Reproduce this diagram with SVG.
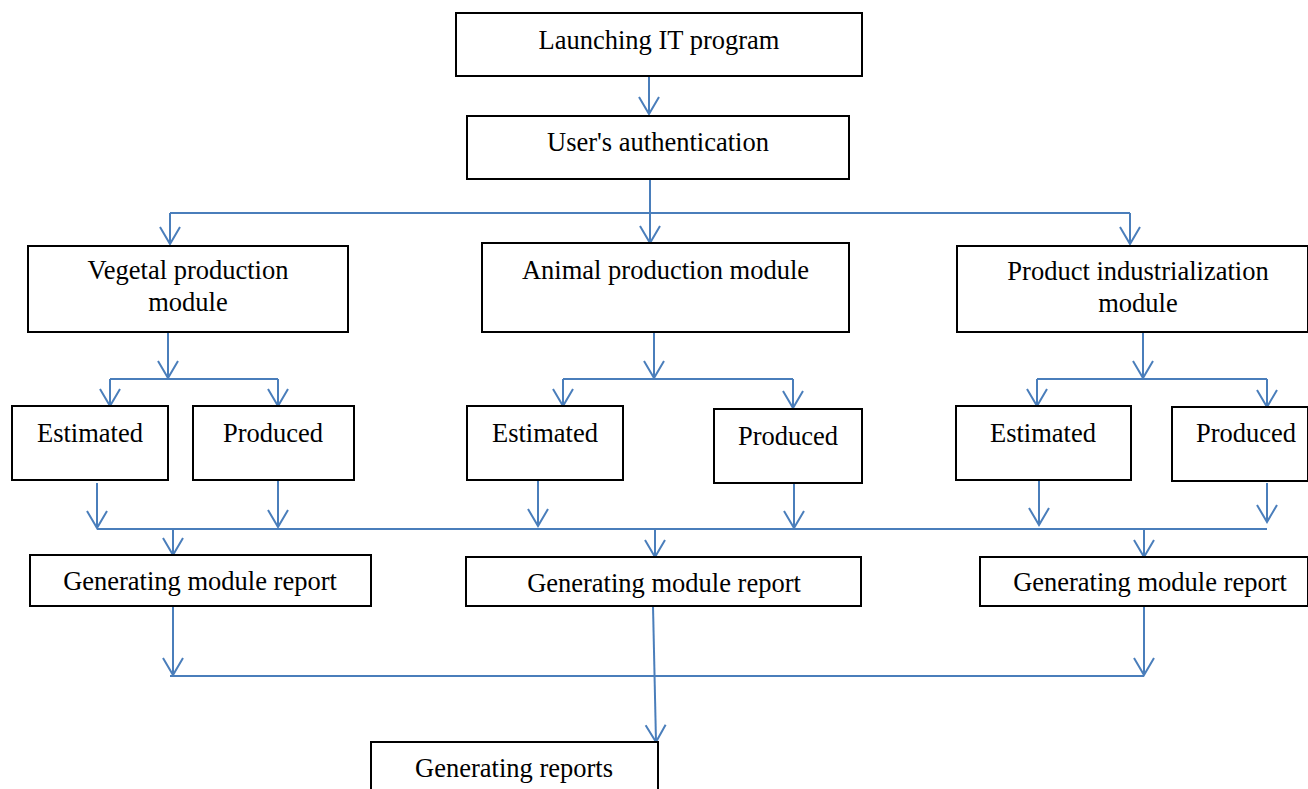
<svg xmlns="http://www.w3.org/2000/svg" width="1308" height="789" viewBox="0 0 1308 789">
<style>
.box{fill:#fff;stroke:#000;stroke-width:2}
.t{font-family:"Liberation Serif","Times New Roman",serif;font-size:26.5px;fill:#000;text-anchor:middle}
.c{fill:none;stroke:#4a7ebb;stroke-width:2}
.a{marker-end:url(#ah)}
</style>
<defs>
<marker id="ah" markerUnits="userSpaceOnUse" markerWidth="24" markerHeight="24" viewBox="-20 -12 24 24" refX="0" refY="0" orient="auto">
<path d="M-17,-10 L0,0 L-17,10" fill="none" stroke="#4a7ebb" stroke-width="2"/>
</marker>
</defs>
<rect width="1308" height="789" fill="#fff"/>
<g id="connectors">
<path class="c a" d="M649,76 V114"/>
<path class="c" d="M650,179 V213"/>
<path class="c" d="M170,213 H1130"/>
<path class="c a" d="M170,213 V244"/>
<path class="c a" d="M650,213 V243"/>
<path class="c a" d="M1130,213 V244"/>
<path class="c a" d="M168,332 V378"/>
<path class="c" d="M110,379 H278"/>
<path class="c a" d="M110,379 V406"/>
<path class="c a" d="M278,379 V406"/>
<path class="c a" d="M654,332 V378"/>
<path class="c" d="M563,379 H793"/>
<path class="c a" d="M563,379 V406"/>
<path class="c a" d="M793,379 V408"/>
<path class="c a" d="M1143,332 V378"/>
<path class="c" d="M1037,379 H1267"/>
<path class="c a" d="M1037,379 V406"/>
<path class="c a" d="M1267,379 V407"/>
<path class="c a" d="M97,483 V528"/>
<path class="c a" d="M278,481 V527"/>
<path class="c a" d="M538,481 V526"/>
<path class="c a" d="M794,483 V528"/>
<path class="c a" d="M1039,481 V525"/>
<path class="c a" d="M1267,483 V522"/>
<path class="c" d="M97,529 H1267"/>
<path class="c a" d="M173,529 V555"/>
<path class="c a" d="M655,529 V557"/>
<path class="c a" d="M1144,529 V557"/>
<path class="c a" d="M173,606 V675"/>
<path class="c a" d="M1144,606 V675"/>
<path class="c" d="M170,676 H1144"/>
<path class="c a" d="M653,606 L656,742"/>
</g>
<g id="launch"><rect class="box" x="456" y="13" width="406" height="63"/><text class="t" x="659" y="49">Launching IT program</text></g>
<g id="auth"><rect class="box" x="467" y="116" width="382" height="63"/><text class="t" x="658" y="151">User's authentication</text></g>
<g id="vegetal"><rect class="box" x="28" y="246" width="320" height="86"/><text class="t" x="188" y="279">Vegetal production</text><text class="t" x="188" y="311">module</text></g>
<g id="animal"><rect class="box" x="482" y="243" width="367" height="89"/><text class="t" x="665.5" y="279">Animal production module</text></g>
<g id="product"><rect class="box" x="957" y="246" width="351" height="86"/><text class="t" x="1138" y="280">Product industrialization</text><text class="t" x="1138" y="312">module</text></g>
<g id="v-est"><rect class="box" x="12" y="406" width="156" height="74"/><text class="t" x="90" y="442">Estimated</text></g>
<g id="v-prod"><rect class="box" x="193" y="406" width="161" height="74"/><text class="t" x="273" y="442">Produced</text></g>
<g id="a-est"><rect class="box" x="467" y="406" width="156" height="74"/><text class="t" x="545" y="442">Estimated</text></g>
<g id="a-prod"><rect class="box" x="714" y="409" width="148" height="74"/><text class="t" x="788" y="445">Produced</text></g>
<g id="p-est"><rect class="box" x="956" y="406" width="175" height="74"/><text class="t" x="1043" y="442">Estimated</text></g>
<g id="p-prod"><rect class="box" x="1172" y="407" width="136" height="74"/><text class="t" x="1246" y="442">Produced</text></g>
<g id="report1"><rect class="box" x="30" y="555" width="341" height="51"/><text class="t" x="200" y="590">Generating module report</text></g>
<g id="report2"><rect class="box" x="466" y="557" width="395" height="49"/><text class="t" x="664" y="592">Generating module report</text></g>
<g id="report3"><rect class="box" x="980" y="557" width="328" height="49"/><text class="t" x="1150" y="591">Generating module report</text></g>
<g id="reports"><rect class="box" x="371" y="742" width="287" height="60"/><text class="t" x="514" y="777">Generating reports</text></g>
</svg>
